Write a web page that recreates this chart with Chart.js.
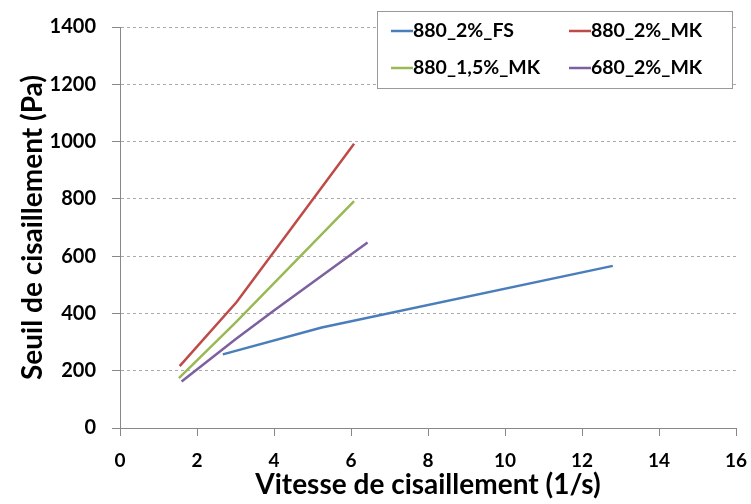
<!DOCTYPE html>
<html>
<head>
<meta charset="utf-8">
<script src="https://cdn.jsdelivr.net/npm/chart.js@4.4.1/dist/chart.umd.min.js"></script>
<style>
  html, body { margin: 0; padding: 0; background: #fff; }
  #wrap { width: 751px; height: 504px; position: relative; }
</style>
</head>
<body>
<div id="wrap"><canvas id="myChart" width="751" height="504"></canvas></div>
<script>
// values
const seriesNames = ['880_2%_FS', '880_2%_MK', '880_1,5%_MK', '680_2%_MK'];
const seriesColors = ['#4a7ebb', '#be4b48', '#98b954', '#7d60a0'];

const fsX = [2.67, 5.24, 12.8];
const fsY = [257, 351, 566];

const mk2X = [1.55, 3.03, 3.97, 6.08];
const mk2Y = [216, 440, 610, 992];

const mk15X = [1.53, 3.0, 6.08];
const mk15Y = [174, 368, 792];

const mk680X = [1.6, 3.0, 4.0, 6.43];
const mk680Y = [162, 310, 410, 648];

const xTicks = [0, 2, 4, 6, 8, 10, 12, 14, 16];
const yTicks = [0, 200, 400, 600, 800, 1000, 1200, 1400];

const FONT = 'Lato, "Open Sans", sans-serif';

function pts(xs, ys) {
  return xs.map((x, i) => ({ x: x, y: ys[i] }));
}

const allX = [fsX, mk2X, mk15X, mk680X];
const allY = [fsY, mk2Y, mk15Y, mk680Y];

// legend drawn in a box on the top right, two columns
const boxLegend = {
  id: 'boxLegend',
  afterDraw(chart) {
    const ctx = chart.ctx;
    const left = 377, top = 11, w = 355, h = 77;
    ctx.save();
    ctx.fillStyle = '#fff';
    ctx.fillRect(left, top, w, h);
    ctx.strokeStyle = '#999';
    ctx.lineWidth = 1;
    ctx.strokeRect(left + 0.5, top + 0.5, w, h);
    const cols = [391, 569];
    const rows = [31, 68];
    ctx.font = 'bold 19.5px ' + FONT;
    ctx.textBaseline = 'middle';
    ctx.textAlign = 'left';
    chart.data.datasets.forEach((ds, i) => {
      const cx = cols[i % 2], cy = rows[Math.floor(i / 2)];
      ctx.strokeStyle = ds.borderColor;
      ctx.lineWidth = 2.5;
      ctx.beginPath();
      ctx.moveTo(cx, cy);
      ctx.lineTo(cx + 22, cy);
      ctx.stroke();
      ctx.fillStyle = '#000';
      ctx.fillText(ds.label, cx + 22, cy);
    });
    ctx.restore();
  }
};

const ctx = document.getElementById('myChart').getContext('2d');
const chart = new Chart(ctx, {
  type: 'line',
  data: {
    datasets: seriesNames.map((name, i) => ({
      label: name,
      data: pts(allX[i], allY[i]),
      borderColor: seriesColors[i],
      backgroundColor: seriesColors[i],
      borderWidth: 2.5,
      pointRadius: 0,
      tension: 0,
      fill: false,
    })),
  },
  options: {
    responsive: false,
    animation: false,
    layout: { padding: { top: 27, right: 15, bottom: 0, left: 0 } },
    plugins: {
      legend: { display: false },
      tooltip: { enabled: false },
    },
    scales: {
      x: {
        type: 'linear',
        min: 0,
        max: 16,
        afterBuildTicks: (s) => { s.ticks = xTicks.map(v => ({ value: v })); },
        afterFit: (s) => { s.height = 76; s.paddingLeft = 0; s.paddingRight = 0; },
        grid: { drawOnChartArea: false, drawTicks: true, tickLength: 8, color: '#888', tickColor: '#888' },
        border: { color: '#888', width: 1 },
        ticks: { color: '#000', padding: 13, callback: (v) => String(v), font: { family: FONT, size: 19, weight: 'bold' } },
        title: {
          display: true,
          text: 'Vitesse de cisaillement (1/s)',
          color: '#000',
          padding: { top: 0, bottom: 2 },
          font: { family: FONT, size: 28, weight: 'bold' },
        },
      },
      y: {
        min: 0,
        max: 1400,
        afterBuildTicks: (s) => { s.ticks = yTicks.map(v => ({ value: v })); },
        afterFit: (s) => { s.width = 120; s.paddingTop = 0; s.paddingBottom = 0; },
        grid: { color: '#aaa', tickColor: '#888', tickLength: 8 },
        border: { color: '#888', width: 1, dash: [3, 3] },
        ticks: { color: '#000', padding: 16, callback: (v) => String(v), font: { family: FONT, size: 20, weight: 'bold' } },
        title: {
          display: true,
          text: 'Seuil de cisaillement (Pa)',
          color: '#000',
          padding: { top: 16, bottom: 0 },
          font: { family: FONT, size: 28, weight: 'bold' },
        },
      },
    },
  },
  plugins: [boxLegend],
});
</script>
</body>
</html>
